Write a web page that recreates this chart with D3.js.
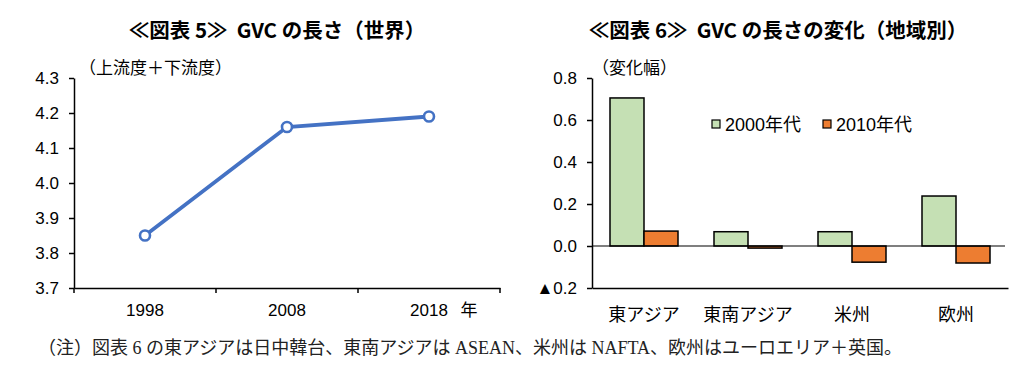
<!DOCTYPE html>
<html>
<head>
<meta charset="utf-8">
<script src="https://cdn.jsdelivr.net/npm/d3@7"></script>
<style>
  body { margin: 0; background: #fff; }
  svg { display: block; font-family: "Liberation Sans", "Noto Sans CJK JP", sans-serif; }
  .jp { font-family: "Noto Sans CJK JP", sans-serif; }
</style>
</head>
<body>
<svg class="charts" width="1022" height="374"></svg>
<script>
// chart 5 data
const years = ["1998", "2008", "2018"];
const gvcLength = [3.85, 4.16, 4.19];
const leftTicks = [3.7, 3.8, 3.9, 4.0, 4.1, 4.2, 4.3];

// chart 6 data
const regions = ["東アジア", "東南アジア", "米州", "欧州"];
const series = ["2000年代", "2010年代"];
const change2000s = [0.705, 0.068, 0.068, 0.238];
const change2010s = [0.071, -0.01, -0.077, -0.081];
const rightTicks = [-0.2, 0, 0.2, 0.4, 0.6, 0.8];
const rightTickLabels = ["▲0.2", "0.0", "0.2", "0.4", "0.6", "0.8"];

const note = "（注）図表 6 の東アジアは日中韓台、東南アジアは ASEAN、米州は NAFTA、欧州はユーロエリア＋英国。";

const svg = d3.select("svg.charts");
svg.append("rect").attr("width", 1022).attr("height", 374).attr("fill", "#fff");

const plotTop = 78, plotBottom = 288;

// ---------- left: line chart ----------
const g1 = svg.append("g");
const x1 = d3.scaleBand().domain(years).range([74, 500]);
const y1 = d3.scaleLinear().domain([3.7, 4.3]).range([plotBottom, plotTop]);

g1.append("text")
    .attr("class", "jp")
    .attr("x", 277).attr("y", 38)
    .attr("text-anchor", "middle")
    .attr("font-size", 20.5).attr("font-weight", "bold")
    .style("white-space", "pre")
    .text("≪図表 5≫  GVC の長さ（世界）");

g1.append("text")
    .attr("class", "jp")
    .attr("x", 79).attr("y", 74)
    .attr("font-size", 17)
    .text("（上流度＋下流度）");

const yAxis1 = g1.append("g")
    .attr("transform", "translate(74,0)")
    .call(d3.axisLeft(y1).tickValues(leftTicks).tickFormat(d3.format(".1f")).tickSize(5).tickSizeOuter(0));
yAxis1.selectAll("text").attr("font-size", 17).attr("fill", "#000").attr("x", -15)
    .attr("font-family", "Liberation Sans, sans-serif");

const xAxis1 = g1.append("g")
    .attr("transform", `translate(0,${plotBottom})`)
    .call(d3.axisBottom(x1).tickSize(0).tickSizeOuter(0));
xAxis1.selectAll("text").attr("font-size", 17).attr("fill", "#000").attr("dy", "1.45em")
    .attr("font-family", "Liberation Sans, sans-serif");
// boundary ticks between categories
xAxis1.selectAll("line.sep")
    .data([74, 74 + x1.bandwidth(), 74 + 2 * x1.bandwidth(), 500])
    .enter().append("line")
    .attr("class", "sep")
    .attr("x1", d => d).attr("x2", d => d)
    .attr("y1", 0).attr("y2", 5)
    .attr("stroke", "#000").attr("stroke-width", 1.5);

g1.selectAll(".domain").attr("stroke", "#000").attr("stroke-width", 1.5);
g1.selectAll(".tick line").attr("stroke", "#000").attr("stroke-width", 1.5);

g1.append("text")
    .attr("class", "jp")
    .attr("x", 469).attr("y", 316)
    .attr("text-anchor", "middle")
    .attr("font-size", 17)
    .text("年");

const pts = years.map((d, i) => ({ year: d, v: gvcLength[i] }));
const line = d3.line()
    .x(d => x1(d.year) + x1.bandwidth() / 2)
    .y(d => y1(d.v));

g1.append("path")
    .datum(pts)
    .attr("d", line)
    .attr("fill", "none")
    .attr("stroke", "#4472C4")
    .attr("stroke-width", 3.8);

g1.selectAll("circle")
    .data(pts)
    .enter().append("circle")
    .attr("cx", d => x1(d.year) + x1.bandwidth() / 2)
    .attr("cy", d => y1(d.v))
    .attr("r", 5)
    .attr("fill", "#fff")
    .attr("stroke", "#4472C4")
    .attr("stroke-width", 2.6);

// ---------- right: bar chart ----------
const g2 = svg.append("g");
const x2 = d3.scaleBand().domain(regions).range([592, 1008]);
const xs = d3.scaleBand().domain(series).range([0, 68]);
const y2 = d3.scaleLinear().domain([-0.2, 0.8]).range([plotBottom, plotTop]);
const colors = d3.scaleOrdinal().domain(series).range(["#C5E0B4", "#ED7D31"]);

g2.append("text")
    .attr("class", "jp")
    .attr("x", 778).attr("y", 38)
    .attr("text-anchor", "middle")
    .attr("font-size", 20.5).attr("font-weight", "bold")
    .style("white-space", "pre")
    .text("≪図表 6≫  GVC の長さの変化（地域別）");

g2.append("text")
    .attr("class", "jp")
    .attr("x", 592).attr("y", 74)
    .attr("font-size", 17)
    .text("（変化幅）");

const yAxis2 = g2.append("g")
    .attr("transform", "translate(592,0)")
    .call(d3.axisLeft(y2).tickValues(rightTicks).tickFormat((d, i) => rightTickLabels[i]).tickSize(5).tickSizeOuter(0));
yAxis2.selectAll("text").attr("font-size", 17).attr("fill", "#000").attr("x", -15)
    .attr("font-family", "Liberation Sans, Noto Sans CJK JP, sans-serif");

const xAxis2 = g2.append("g")
    .attr("transform", `translate(0,${plotBottom})`)
    .call(d3.axisBottom(x2).tickSize(0).tickSizeOuter(0));
xAxis2.selectAll("text").attr("font-size", 18).attr("fill", "#000").attr("dy", "1.65em")
    .attr("font-family", "Noto Sans CJK JP, sans-serif");

g2.selectAll(".domain").attr("stroke", "#000").attr("stroke-width", 1.5);
g2.selectAll(".tick line").attr("stroke", "#000").attr("stroke-width", 1.5);

const barData = [];
regions.forEach((r, i) => {
    barData.push({ region: r, s: series[0], v: change2000s[i] });
    barData.push({ region: r, s: series[1], v: change2010s[i] });
});

g2.selectAll("rect.bar")
    .data(barData)
    .enter().append("rect")
    .attr("class", "bar")
    .attr("x", d => x2(d.region) + (x2.bandwidth() - 68) / 2 + xs(d.s))
    .attr("y", d => y2(Math.max(0, d.v)))
    .attr("width", xs.bandwidth())
    .attr("height", d => Math.abs(y2(d.v) - y2(0)))
    .attr("fill", d => colors(d.s))
    .attr("stroke", "#000")
    .attr("stroke-width", 1.5);

// zero line
g2.append("line")
    .attr("x1", 592).attr("x2", 1005)
    .attr("y1", y2(0)).attr("y2", y2(0))
    .attr("stroke", "#000").attr("stroke-width", 1.2);

// legend
const legend = g2.selectAll("g.legend")
    .data(series)
    .enter().append("g")
    .attr("class", "legend")
    .attr("transform", (d, i) => `translate(${712 + i * 111},124)`);
legend.append("rect")
    .attr("x", 0).attr("y", -4)
    .attr("width", 8).attr("height", 8)
    .attr("fill", d => colors(d))
    .attr("stroke", "#000").attr("stroke-width", 1.2);
legend.append("text")
    .attr("x", 13).attr("y", 6.5)
    .attr("font-size", 18)
    .attr("font-family", "Liberation Sans, Noto Sans CJK JP, sans-serif")
    .text(d => d);

// footnote
svg.append("text")
    .attr("x", 38).attr("y", 354)
    .attr("font-size", 18)
    .attr("font-family", "Liberation Serif, Noto Sans CJK JP, serif")
    .attr("fill", "#222")
    .text(note);
</script>
</body>
</html>
